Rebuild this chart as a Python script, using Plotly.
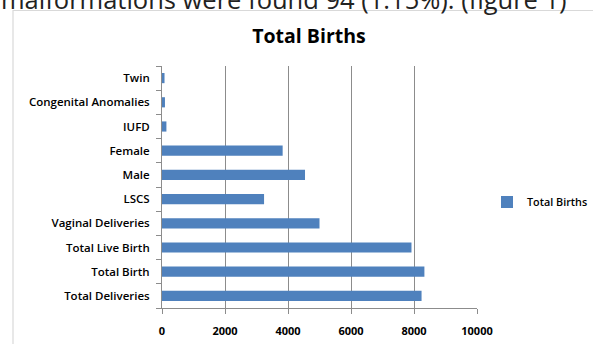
import plotly.graph_objects as go

categories = ["Total Deliveries", "Total Birth", "Total Live Birth", "Vaginal Deliveries",
              "LSCS", "Male", "Female", "IUFD", "Congenital Anomalies", "Twin"]
values = [8240, 8330, 7920, 5000, 3240, 4540, 3830, 140, 94, 80]
series_name = "Total Births"
x_ticks = [0, 2000, 4000, 6000, 8000, 10000]

W, H = 593, 344
L, R, T, B = 162, 116, 66, 36
pw, ph = W - L - R, H - T - B

def px_x(p):
    return (p - L) / pw

def px_y(p):
    return (H - B - p) / ph

fig = go.Figure()
fig.add_trace(go.Bar(
    y=categories, x=values, orientation="h", name=series_name,
    marker=dict(color="#4F81BD", line=dict(width=0)),
    showlegend=True,
))

fig.update_layout(
    width=W, height=H,
    margin=dict(l=L, r=R, t=T, b=B, pad=0, autoexpand=False),
    paper_bgcolor="white", plot_bgcolor="white",
    bargap=0.58,
    font=dict(family="Open Sans", color="#000000"),
    title=dict(text="<b>Total Births</b>", x=309 / W, xanchor="center",
               y=1 - 36 / H, yanchor="middle", yref="container",
               font=dict(size=19.5, family="Open Sans", color="#000000")),
    showlegend=True,
    legend=dict(xref="container", yref="container",
                x=487 / W, xanchor="left", y=1 - 202 / H, yanchor="middle",
                font=dict(size=10.8, family="Open Sans", weight=600, color="#000000"),
                bgcolor="rgba(0,0,0,0)", itemwidth=30, borderwidth=0),
    xaxis=dict(range=[0, 10000], tickvals=x_ticks, ticktext=[str(v) for v in x_ticks],
               showgrid=True, gridcolor="#8C8C8C", gridwidth=1,
               showline=True, linecolor="#8C8C8C", linewidth=1,
               ticks="outside", ticklen=5, tickcolor="#8C8C8C",
               ticklabelstandoff=8,
               tickfont=dict(size=11, family="Open Sans", weight="bold", color="#000000"),
               zeroline=False, fixedrange=True, automargin=False),
    yaxis=dict(type="category", categoryorder="array", categoryarray=categories,
               range=[-0.5, len(categories) - 0.5],
               showline=True, linecolor="#8C8C8C", linewidth=1,
               ticks="outside", ticklen=5, tickcolor="#8C8C8C", tickson="boundaries",
               ticklabelstandoff=9,
               showgrid=False,
               tickfont=dict(size=11.5, family="Open Sans", weight=600, color="#000000"),
               fixedrange=True, automargin=False),
    shapes=[dict(type="rect", xref="paper", yref="paper",
                 x0=px_x(13), x1=px_x(620), y0=px_y(370), y1=px_y(10.5),
                 line=dict(color="#D9D9D9", width=1.2), fillcolor="rgba(0,0,0,0)",
                 layer="below")],
    annotations=[dict(text="malformations were found 94 (1.15%). (figure 1)",
                      xref="paper", yref="paper", x=px_x(-1), xanchor="left",
                      y=px_y(18.5), yanchor="bottom", showarrow=False,
                      font=dict(size=25.5, family="Open Sans", color="#222222"))],
)

fig.write_html("out.html")
